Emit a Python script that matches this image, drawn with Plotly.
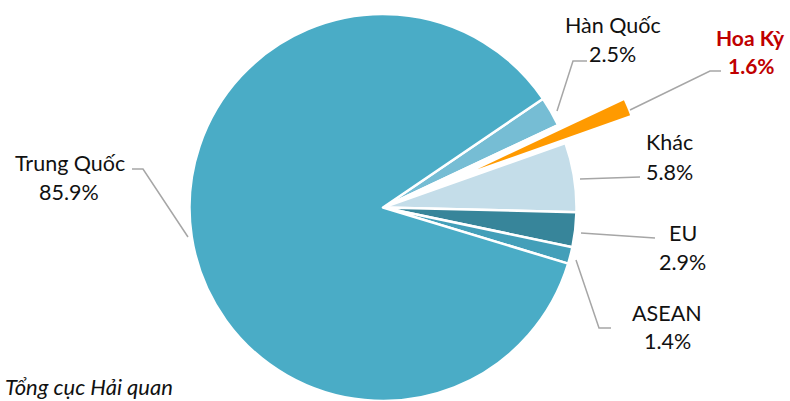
import math
import plotly.graph_objects as go

# ---- data (clockwise from the Hàn Quốc slice) ----
labels = ["Hàn Quốc", "Hoa Kỳ", "Khác", "EU", "ASEAN", "Trung Quốc"]
shares = [2.5, 1.6, 5.8, 2.9, 1.4, 85.9]
pct_text = ["2.5%", "1.6%", "5.8%", "2.9%", "1.4%", "85.9%"]
source_text = "Tổng cục Hải quan"

colors = ["#76BDD4", "#FF9A00", "#C4DDE9", "#37859A", "#439FB9", "#4AACC6"]

W, H = 790, 401
FONT = "Lato"
ROT = 55.8


def px(x):
    return x / W


def py(y):
    return 1 - y / H


# main pie geometry (pixels)
cx, cy, r = 383, 208, 194
main_dom = dict(x=[px(cx - r), px(cx + r)], y=[max(0, py(cy + r)), min(1, py(cy - r))])

# exploded US slice drawn as its own pie, offset along its bisector
hi = labels.index("Hoa Kỳ")
start = 90 - ROT
acc = sum(shares[:hi])
tot = sum(shares)
bis = math.radians(start - 360 * (acc + shares[hi] / 2) / tot)
d = 102
r2 = 162
cx2, cy2 = cx + d * math.cos(bis), cy - d * math.sin(bis)
dom2 = dict(x=[px(cx2 - r2), px(cx2 + r2)], y=[max(0, py(cy2 + r2)), min(1, py(cy2 - r2))])

main_colors = [c if i != hi else "white" for i, c in enumerate(colors)]
sub_colors = [c if i == hi else "rgba(0,0,0,0)" for i, c in enumerate(colors)]

fig = go.Figure()
fig.add_trace(go.Pie(
    labels=labels, values=shares, sort=False, direction="clockwise", rotation=ROT,
    marker=dict(colors=main_colors, line=dict(color="white", width=2.5)),
    textinfo="none", hoverinfo="skip", showlegend=False, domain=main_dom,
))
fig.add_trace(go.Pie(
    labels=labels, values=shares, sort=False, direction="clockwise", rotation=ROT,
    marker=dict(colors=sub_colors, line=dict(width=0)),
    textinfo="none", hoverinfo="skip", showlegend=False, domain=dom2,
))

# leader lines (pixel paths)
leaders = [
    [(557, 111), (573, 61), (587, 61)],
    [(630, 110), (710, 71), (721, 71)],
    [(580, 179), (640, 177)],
    [(581, 233), (655, 238)],
    [(576, 260), (599, 328), (611, 328)],
    [(188, 237), (143, 169), (132, 169)],
]
for pts in leaders:
    path = "M " + " L ".join(f"{px(x):.5f},{py(y):.5f}" for x, y in pts)
    fig.add_shape(type="path", path=path, xref="paper", yref="paper",
                  line=dict(color="#A6A6A6", width=1.5))

# label positions (pixel centres: name line, percent line)
label_pos = [
    (613, 25, 612, 54),
    (750, 37, 751, 66),
    (669, 142, 669, 172),
    (683, 233, 682, 262),
    (667, 313, 667, 341),
    (70, 163, 69, 192),
]
for i, (x1, y1, x2, y2) in enumerate(label_pos):
    us = i == hi
    col = "#C00000" if us else "#111111"
    for txt, x, y in ((labels[i], x1, y1), (pct_text[i], x2, y2)):
        fig.add_annotation(
            text=f"<b>{txt}</b>" if us else txt,
            x=px(x), y=py(y), xref="paper", yref="paper",
            xanchor="center", yanchor="middle", showarrow=False,
            font=dict(family=FONT, size=21 if us else 21.5, color=col),
        )

fig.add_annotation(
    text=f"<i>{source_text}</i>", x=px(3), y=py(386), xref="paper", yref="paper",
    xanchor="left", yanchor="middle", showarrow=False,
    font=dict(family=FONT, size=22, color="#111111"),
)

fig.update_layout(
    width=W, height=H, margin=dict(l=0, r=0, t=0, b=0),
    paper_bgcolor="white", plot_bgcolor="white", showlegend=False,
)

fig.write_html("out.html", config={"displayModeBar": False},
               post_script="document.body.style.margin='0';")
